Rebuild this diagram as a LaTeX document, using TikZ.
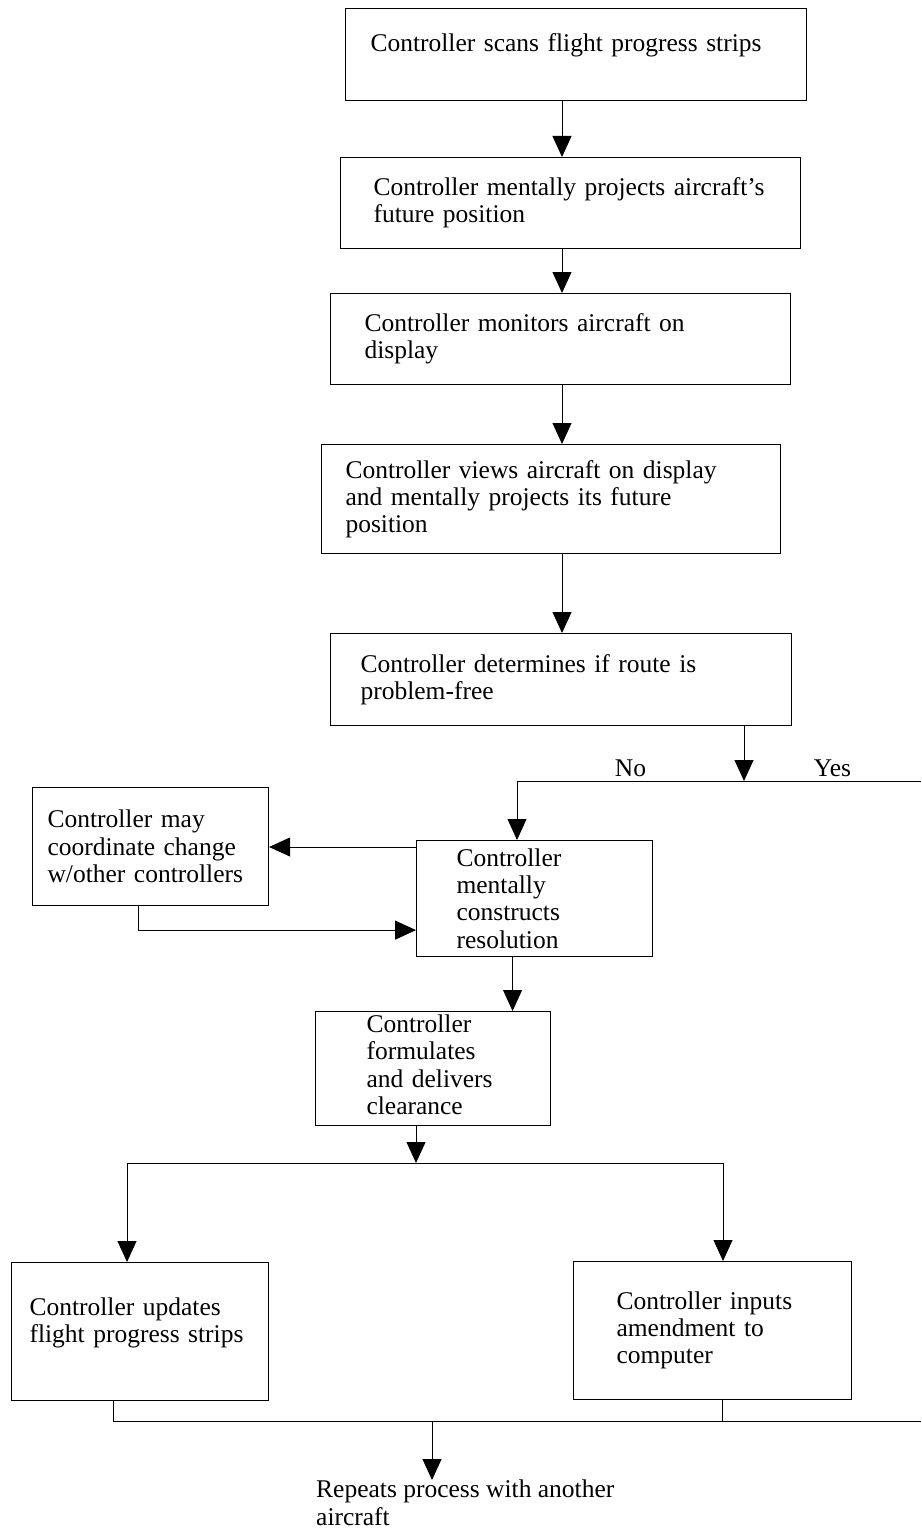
\documentclass[tikz,border=0pt]{standalone}
\usepackage{fontspec}
\setmainfont{Liberation Serif}
\usetikzlibrary{arrows.meta}

\begin{document}
\begin{tikzpicture}[
	x=1pt, y=-1pt,
	>={Triangle[width=19pt,length=21pt]},
	font=\fontsize{25.5pt}{27.3pt}\selectfont,
	box/.style={
		rectangle,
		draw,
		line width=1.1pt,
		anchor=north west,
		align=left,
		inner ysep=2pt
	},
	link/.style={line width=0.9pt}
	]
	\useasboundingbox (0,0) rectangle (921,1530);

	% main column
	\node[box, text width=411pt, inner xsep=25pt, minimum height=92pt, text depth=24pt] (scan) at (345,8) {Controller scans flight progress strips};
	\node[box, text width=394pt, inner xsep=33pt, minimum height=91pt] (project) at (340,157) {Controller mentally projects aircraft's\\future position};
	\node[box, text width=392pt, inner xsep=34pt, minimum height=91pt] (monitor) at (330,293) {Controller monitors aircraft on\\display};
	\node[box, text width=411pt, inner xsep=24pt, minimum height=109pt] (views) at (321,444) {Controller views aircraft on display\\and mentally projects its future\\position};
	\node[box, text width=401pt, inner xsep=30pt, minimum height=92pt] (decide) at (330,633) {Controller determines if route is\\problem-free};

	% resolution part
	\node[box, text width=156pt, inner xsep=40pt, minimum height=116pt] (construct) at (416,840) {Controller\\mentally\\constructs\\resolution};
	\node[box, text width=206pt, inner xsep=15pt, minimum height=118pt] (coord) at (32,787) {Controller may\\coordinate change\\w/other controllers};
	\node[box, text width=133pt, inner xsep=51pt, minimum height=114pt, text depth=90pt] (formulate) at (315,1011) {Controller\\formulates\\and delivers\\clearance};
	\node[box, text width=221pt, inner xsep=18pt, minimum height=138pt, text depth=50pt] (updates) at (11,1262) {Controller updates\\flight progress strips};
	\node[box, text width=192pt, inner xsep=43pt, minimum height=138pt] (inputs) at (573,1261) {Controller inputs\\amendment to\\computer};
	\node[align=left, anchor=north west, inner sep=0pt] (again) at (316,1480) {Repeats process with another\\aircraft};

	\coordinate (spine) at (562,0);
	\coordinate (split) at (744,781);
	\coordinate (yesend) at (921,781);
	\coordinate (nojoin) at (517,781);
	\coordinate (fork) at (416,1163);
	\coordinate (forkL) at (127,1163);
	\coordinate (forkR) at (723,1163);
	\coordinate (joinL) at (113,1421);
	\coordinate (joinM) at (722,1421);
	\coordinate (joinR) at (921,1421);
	\coordinate (join) at (432,1421);

	\foreach \a/\b in {scan/project, project/monitor, monitor/views, views/decide}
		\draw[link,->] (spine |- \a.south) -- (spine |- \b.north);

	\draw[link,->] (split |- decide.south) -- (split);
	\draw[link] (split) -- node[midway,above] {Yes} (yesend);
	\draw[link,->] (split) -- node[midway,above] {No} (nojoin) -- (nojoin |- construct.north);

	\draw[link,->] ([yshift=-7pt]construct.north west) -- ([yshift=-7pt]construct.north west -| coord.east);
	\draw[link,->] ([xshift=-12pt]coord.south) |- ([yshift=27pt]construct.south west);
	\draw[link,->] ([xshift=-22pt]construct.south) -- ([xshift=-22pt]construct.south |- formulate.north);

	\draw[link,->] (fork |- formulate.south) -- (fork);
	\draw[link] (forkL) -- (forkR);
	\draw[link,->] (forkL) -- (forkL |- updates.north);
	\draw[link,->] (forkR) -- (forkR |- inputs.north);

	\draw[link] (joinL |- updates.south) -- (joinL) -- (joinR);
	\draw[link] (joinM |- inputs.south) -- (joinM);
	\draw[link,->] (join) -- (join |- again.north);
\end{tikzpicture}
\end{document}
